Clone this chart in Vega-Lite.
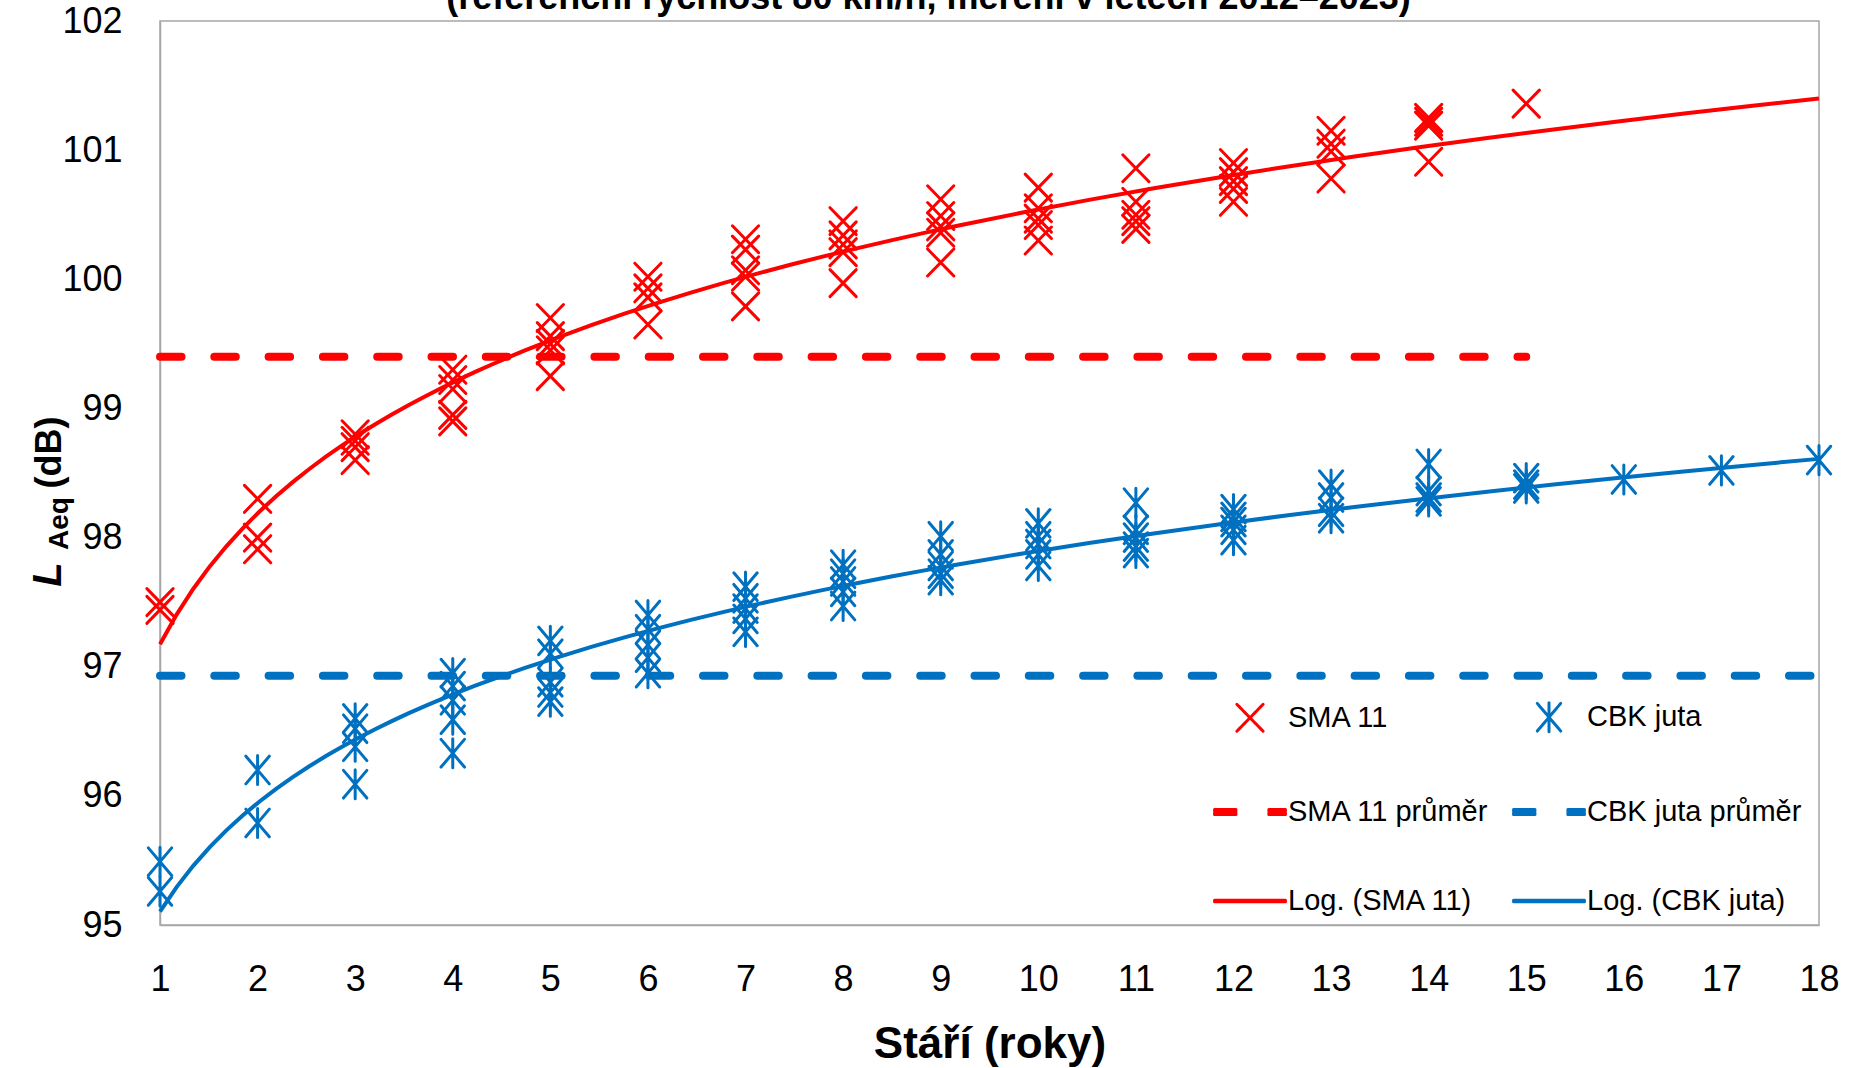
{
  "$schema": "https://vega.github.io/schema/vega-lite/v6.json",
  "width": 1659,
  "height": 904,
  "autosize": {"type": "none"},
  "padding": {"left": 160, "top": 21, "right": 37, "bottom": 143},
  "background": "white",
  "config": {
    "view": {"stroke": "#a6a6a6", "strokeWidth": 1.5},
    "font": "Liberation Sans",
    "legend": {
      "orient": "none",
      "legendX": 1053,
      "legendY": 659,
      "columns": 2,
      "direction": "horizontal",
      "columnPadding": 18,
      "rowPadding": 37,
      "padding": 0,
      "symbolSize": 5041,
      "symbolStrokeWidth": 3,
      "labelFont": "Liberation Sans",
      "labelFontSize": 29,
      "labelColor": "black",
      "labelOffset": 1,
      "labelLimit": 400
    }
  },
  "title": {
    "text": "(referenční rychlost 80 km/h, měření v letech 2012–2023)",
    "anchor": "middle",
    "frame": "group",
    "dx": -61,
    "offset": -42,
    "baseline": "alphabetic",
    "font": "Liberation Sans",
    "fontSize": 36,
    "fontWeight": "bold",
    "color": "black"
  },
  "datasets": {
    "points": [
      {"age": 1, "LAeq": 97.50, "series": "SMA 11", "trend": "Log. (SMA 11)"},
      {"age": 1, "LAeq": 97.44, "series": "SMA 11", "trend": "Log. (SMA 11)"},
      {"age": 2, "LAeq": 98.30, "series": "SMA 11", "trend": "Log. (SMA 11)"},
      {"age": 2, "LAeq": 98.00, "series": "SMA 11", "trend": "Log. (SMA 11)"},
      {"age": 2, "LAeq": 97.91, "series": "SMA 11", "trend": "Log. (SMA 11)"},
      {"age": 3, "LAeq": 98.80, "series": "SMA 11", "trend": "Log. (SMA 11)"},
      {"age": 3, "LAeq": 98.75, "series": "SMA 11", "trend": "Log. (SMA 11)"},
      {"age": 3, "LAeq": 98.70, "series": "SMA 11", "trend": "Log. (SMA 11)"},
      {"age": 3, "LAeq": 98.60, "series": "SMA 11", "trend": "Log. (SMA 11)"},
      {"age": 4, "LAeq": 99.30, "series": "SMA 11", "trend": "Log. (SMA 11)"},
      {"age": 4, "LAeq": 99.22, "series": "SMA 11", "trend": "Log. (SMA 11)"},
      {"age": 4, "LAeq": 99.15, "series": "SMA 11", "trend": "Log. (SMA 11)"},
      {"age": 4, "LAeq": 98.95, "series": "SMA 11", "trend": "Log. (SMA 11)"},
      {"age": 4, "LAeq": 98.90, "series": "SMA 11", "trend": "Log. (SMA 11)"},
      {"age": 5, "LAeq": 99.70, "series": "SMA 11", "trend": "Log. (SMA 11)"},
      {"age": 5, "LAeq": 99.56, "series": "SMA 11", "trend": "Log. (SMA 11)"},
      {"age": 5, "LAeq": 99.50, "series": "SMA 11", "trend": "Log. (SMA 11)"},
      {"age": 5, "LAeq": 99.45, "series": "SMA 11", "trend": "Log. (SMA 11)"},
      {"age": 5, "LAeq": 99.25, "series": "SMA 11", "trend": "Log. (SMA 11)"},
      {"age": 6, "LAeq": 100.02, "series": "SMA 11", "trend": "Log. (SMA 11)"},
      {"age": 6, "LAeq": 99.93, "series": "SMA 11", "trend": "Log. (SMA 11)"},
      {"age": 6, "LAeq": 99.86, "series": "SMA 11", "trend": "Log. (SMA 11)"},
      {"age": 6, "LAeq": 99.65, "series": "SMA 11", "trend": "Log. (SMA 11)"},
      {"age": 7, "LAeq": 100.31, "series": "SMA 11", "trend": "Log. (SMA 11)"},
      {"age": 7, "LAeq": 100.23, "series": "SMA 11", "trend": "Log. (SMA 11)"},
      {"age": 7, "LAeq": 100.07, "series": "SMA 11", "trend": "Log. (SMA 11)"},
      {"age": 7, "LAeq": 100.02, "series": "SMA 11", "trend": "Log. (SMA 11)"},
      {"age": 7, "LAeq": 99.79, "series": "SMA 11", "trend": "Log. (SMA 11)"},
      {"age": 8, "LAeq": 100.45, "series": "SMA 11", "trend": "Log. (SMA 11)"},
      {"age": 8, "LAeq": 100.34, "series": "SMA 11", "trend": "Log. (SMA 11)"},
      {"age": 8, "LAeq": 100.27, "series": "SMA 11", "trend": "Log. (SMA 11)"},
      {"age": 8, "LAeq": 100.21, "series": "SMA 11", "trend": "Log. (SMA 11)"},
      {"age": 8, "LAeq": 99.97, "series": "SMA 11", "trend": "Log. (SMA 11)"},
      {"age": 9, "LAeq": 100.62, "series": "SMA 11", "trend": "Log. (SMA 11)"},
      {"age": 9, "LAeq": 100.49, "series": "SMA 11", "trend": "Log. (SMA 11)"},
      {"age": 9, "LAeq": 100.41, "series": "SMA 11", "trend": "Log. (SMA 11)"},
      {"age": 9, "LAeq": 100.36, "series": "SMA 11", "trend": "Log. (SMA 11)"},
      {"age": 9, "LAeq": 100.13, "series": "SMA 11", "trend": "Log. (SMA 11)"},
      {"age": 10, "LAeq": 100.71, "series": "SMA 11", "trend": "Log. (SMA 11)"},
      {"age": 10, "LAeq": 100.55, "series": "SMA 11", "trend": "Log. (SMA 11)"},
      {"age": 10, "LAeq": 100.47, "series": "SMA 11", "trend": "Log. (SMA 11)"},
      {"age": 10, "LAeq": 100.42, "series": "SMA 11", "trend": "Log. (SMA 11)"},
      {"age": 10, "LAeq": 100.30, "series": "SMA 11", "trend": "Log. (SMA 11)"},
      {"age": 11, "LAeq": 100.86, "series": "SMA 11", "trend": "Log. (SMA 11)"},
      {"age": 11, "LAeq": 100.60, "series": "SMA 11", "trend": "Log. (SMA 11)"},
      {"age": 11, "LAeq": 100.50, "series": "SMA 11", "trend": "Log. (SMA 11)"},
      {"age": 11, "LAeq": 100.45, "series": "SMA 11", "trend": "Log. (SMA 11)"},
      {"age": 11, "LAeq": 100.39, "series": "SMA 11", "trend": "Log. (SMA 11)"},
      {"age": 12, "LAeq": 100.90, "series": "SMA 11", "trend": "Log. (SMA 11)"},
      {"age": 12, "LAeq": 100.83, "series": "SMA 11", "trend": "Log. (SMA 11)"},
      {"age": 12, "LAeq": 100.76, "series": "SMA 11", "trend": "Log. (SMA 11)"},
      {"age": 12, "LAeq": 100.70, "series": "SMA 11", "trend": "Log. (SMA 11)"},
      {"age": 12, "LAeq": 100.60, "series": "SMA 11", "trend": "Log. (SMA 11)"},
      {"age": 13, "LAeq": 101.15, "series": "SMA 11", "trend": "Log. (SMA 11)"},
      {"age": 13, "LAeq": 101.05, "series": "SMA 11", "trend": "Log. (SMA 11)"},
      {"age": 13, "LAeq": 100.99, "series": "SMA 11", "trend": "Log. (SMA 11)"},
      {"age": 13, "LAeq": 100.78, "series": "SMA 11", "trend": "Log. (SMA 11)"},
      {"age": 14, "LAeq": 101.25, "series": "SMA 11", "trend": "Log. (SMA 11)"},
      {"age": 14, "LAeq": 101.22, "series": "SMA 11", "trend": "Log. (SMA 11)"},
      {"age": 14, "LAeq": 101.19, "series": "SMA 11", "trend": "Log. (SMA 11)"},
      {"age": 14, "LAeq": 100.91, "series": "SMA 11", "trend": "Log. (SMA 11)"},
      {"age": 15, "LAeq": 101.36, "series": "SMA 11", "trend": "Log. (SMA 11)"},
      {"age": 1, "LAeq": 95.49, "series": "CBK juta", "trend": "Log. (CBK juta)"},
      {"age": 1, "LAeq": 95.26, "series": "CBK juta", "trend": "Log. (CBK juta)"},
      {"age": 2, "LAeq": 96.20, "series": "CBK juta", "trend": "Log. (CBK juta)"},
      {"age": 2, "LAeq": 95.79, "series": "CBK juta", "trend": "Log. (CBK juta)"},
      {"age": 3, "LAeq": 96.60, "series": "CBK juta", "trend": "Log. (CBK juta)"},
      {"age": 3, "LAeq": 96.52, "series": "CBK juta", "trend": "Log. (CBK juta)"},
      {"age": 3, "LAeq": 96.38, "series": "CBK juta", "trend": "Log. (CBK juta)"},
      {"age": 3, "LAeq": 96.09, "series": "CBK juta", "trend": "Log. (CBK juta)"},
      {"age": 4, "LAeq": 96.95, "series": "CBK juta", "trend": "Log. (CBK juta)"},
      {"age": 4, "LAeq": 96.85, "series": "CBK juta", "trend": "Log. (CBK juta)"},
      {"age": 4, "LAeq": 96.74, "series": "CBK juta", "trend": "Log. (CBK juta)"},
      {"age": 4, "LAeq": 96.59, "series": "CBK juta", "trend": "Log. (CBK juta)"},
      {"age": 4, "LAeq": 96.33, "series": "CBK juta", "trend": "Log. (CBK juta)"},
      {"age": 5, "LAeq": 97.20, "series": "CBK juta", "trend": "Log. (CBK juta)"},
      {"age": 5, "LAeq": 97.10, "series": "CBK juta", "trend": "Log. (CBK juta)"},
      {"age": 5, "LAeq": 96.88, "series": "CBK juta", "trend": "Log. (CBK juta)"},
      {"age": 5, "LAeq": 96.80, "series": "CBK juta", "trend": "Log. (CBK juta)"},
      {"age": 5, "LAeq": 96.73, "series": "CBK juta", "trend": "Log. (CBK juta)"},
      {"age": 6, "LAeq": 97.40, "series": "CBK juta", "trend": "Log. (CBK juta)"},
      {"age": 6, "LAeq": 97.29, "series": "CBK juta", "trend": "Log. (CBK juta)"},
      {"age": 6, "LAeq": 97.17, "series": "CBK juta", "trend": "Log. (CBK juta)"},
      {"age": 6, "LAeq": 97.07, "series": "CBK juta", "trend": "Log. (CBK juta)"},
      {"age": 6, "LAeq": 96.95, "series": "CBK juta", "trend": "Log. (CBK juta)"},
      {"age": 7, "LAeq": 97.62, "series": "CBK juta", "trend": "Log. (CBK juta)"},
      {"age": 7, "LAeq": 97.53, "series": "CBK juta", "trend": "Log. (CBK juta)"},
      {"age": 7, "LAeq": 97.45, "series": "CBK juta", "trend": "Log. (CBK juta)"},
      {"age": 7, "LAeq": 97.37, "series": "CBK juta", "trend": "Log. (CBK juta)"},
      {"age": 7, "LAeq": 97.27, "series": "CBK juta", "trend": "Log. (CBK juta)"},
      {"age": 8, "LAeq": 97.79, "series": "CBK juta", "trend": "Log. (CBK juta)"},
      {"age": 8, "LAeq": 97.72, "series": "CBK juta", "trend": "Log. (CBK juta)"},
      {"age": 8, "LAeq": 97.66, "series": "CBK juta", "trend": "Log. (CBK juta)"},
      {"age": 8, "LAeq": 97.58, "series": "CBK juta", "trend": "Log. (CBK juta)"},
      {"age": 8, "LAeq": 97.47, "series": "CBK juta", "trend": "Log. (CBK juta)"},
      {"age": 9, "LAeq": 98.01, "series": "CBK juta", "trend": "Log. (CBK juta)"},
      {"age": 9, "LAeq": 97.87, "series": "CBK juta", "trend": "Log. (CBK juta)"},
      {"age": 9, "LAeq": 97.78, "series": "CBK juta", "trend": "Log. (CBK juta)"},
      {"age": 9, "LAeq": 97.72, "series": "CBK juta", "trend": "Log. (CBK juta)"},
      {"age": 9, "LAeq": 97.67, "series": "CBK juta", "trend": "Log. (CBK juta)"},
      {"age": 10, "LAeq": 98.11, "series": "CBK juta", "trend": "Log. (CBK juta)"},
      {"age": 10, "LAeq": 98.01, "series": "CBK juta", "trend": "Log. (CBK juta)"},
      {"age": 10, "LAeq": 97.95, "series": "CBK juta", "trend": "Log. (CBK juta)"},
      {"age": 10, "LAeq": 97.87, "series": "CBK juta", "trend": "Log. (CBK juta)"},
      {"age": 10, "LAeq": 97.78, "series": "CBK juta", "trend": "Log. (CBK juta)"},
      {"age": 11, "LAeq": 98.27, "series": "CBK juta", "trend": "Log. (CBK juta)"},
      {"age": 11, "LAeq": 98.06, "series": "CBK juta", "trend": "Log. (CBK juta)"},
      {"age": 11, "LAeq": 98.00, "series": "CBK juta", "trend": "Log. (CBK juta)"},
      {"age": 11, "LAeq": 97.93, "series": "CBK juta", "trend": "Log. (CBK juta)"},
      {"age": 11, "LAeq": 97.88, "series": "CBK juta", "trend": "Log. (CBK juta)"},
      {"age": 12, "LAeq": 98.22, "series": "CBK juta", "trend": "Log. (CBK juta)"},
      {"age": 12, "LAeq": 98.16, "series": "CBK juta", "trend": "Log. (CBK juta)"},
      {"age": 12, "LAeq": 98.12, "series": "CBK juta", "trend": "Log. (CBK juta)"},
      {"age": 12, "LAeq": 98.06, "series": "CBK juta", "trend": "Log. (CBK juta)"},
      {"age": 12, "LAeq": 97.98, "series": "CBK juta", "trend": "Log. (CBK juta)"},
      {"age": 13, "LAeq": 98.41, "series": "CBK juta", "trend": "Log. (CBK juta)"},
      {"age": 13, "LAeq": 98.31, "series": "CBK juta", "trend": "Log. (CBK juta)"},
      {"age": 13, "LAeq": 98.20, "series": "CBK juta", "trend": "Log. (CBK juta)"},
      {"age": 13, "LAeq": 98.15, "series": "CBK juta", "trend": "Log. (CBK juta)"},
      {"age": 14, "LAeq": 98.57, "series": "CBK juta", "trend": "Log. (CBK juta)"},
      {"age": 14, "LAeq": 98.36, "series": "CBK juta", "trend": "Log. (CBK juta)"},
      {"age": 14, "LAeq": 98.31, "series": "CBK juta", "trend": "Log. (CBK juta)"},
      {"age": 14, "LAeq": 98.28, "series": "CBK juta", "trend": "Log. (CBK juta)"},
      {"age": 15, "LAeq": 98.46, "series": "CBK juta", "trend": "Log. (CBK juta)"},
      {"age": 15, "LAeq": 98.41, "series": "CBK juta", "trend": "Log. (CBK juta)"},
      {"age": 15, "LAeq": 98.38, "series": "CBK juta", "trend": "Log. (CBK juta)"},
      {"age": 16, "LAeq": 98.45, "series": "CBK juta", "trend": "Log. (CBK juta)"},
      {"age": 17, "LAeq": 98.52, "series": "CBK juta", "trend": "Log. (CBK juta)"},
      {"age": 18, "LAeq": 98.60, "series": "CBK juta", "trend": "Log. (CBK juta)"}
    ],
    "means": [
      {"series": "SMA 11 průměr", "from": 1, "to": 15, "LAeq": 99.40},
      {"series": "CBK juta průměr", "from": 1, "to": 18, "LAeq": 96.93}
    ]
  },
  "resolve": {"axis": {"y": "independent"}},
  "layer": [
    {
      "data": {"name": "points"},
      "mark": {"type": "point", "filled": false, "opacity": 1, "strokeWidth": 3, "size": 5041, "strokeCap": "round"},
      "encoding": {
        "x": {
          "field": "age", "type": "quantitative",
          "scale": {"domain": [1, 18], "nice": false, "zero": false},
          "axis": {
            "values": [1,2,3,4,5,6,7,8,9,10,11,12,13,14,15,16,17,18],
            "format": "d",
            "title": "Stáří (roky)",
            "grid": false, "ticks": false,
            "domainColor": "#a6a6a6", "domainWidth": 1.5,
            "labelFont": "Liberation Sans", "labelFontSize": 36, "labelColor": "black",
            "labelPadding": 37, "labelFlush": false, "labelOverlap": false,
            "titleFont": "Liberation Sans", "titleFontSize": 44, "titleFontWeight": "bold", "titleColor": "black",
            "titleY": 132, "titleBaseline": "alphabetic"
          }
        },
        "y": {
          "field": "LAeq", "type": "quantitative",
          "scale": {"domain": [95, 102], "nice": false, "zero": false},
          "axis": {
            "orient": "left",
            "values": [95,96,97,98,99,100,101,102],
            "format": "d",
            "title": "(dB)",
            "grid": false, "ticks": false,
            "domainColor": "#a6a6a6", "domainWidth": 1.5,
            "labelFont": "Liberation Sans", "labelFontSize": 36, "labelColor": "black",
            "labelPadding": 38, "labelFlush": false, "labelOverlap": false,
            "titleFont": "Liberation Sans", "titleFontSize": 36, "titleFontWeight": "bold", "titleColor": "black",
            "titleX": -100, "titleY": 431, "titleAngle": -90, "titleBaseline": "alphabetic", "titleAlign": "center"
          }
        },
        "color": {
          "field": "series", "type": "nominal",
          "scale": {
            "domain": ["SMA 11", "CBK juta", "SMA 11 průměr", "CBK juta průměr", "Log. (SMA 11)", "Log. (CBK juta)"],
            "range": ["#ff0000", "#0070c0", "#ff0000", "#0070c0", "#ff0000", "#0070c0"]
          },
          "legend": {
            "title": null,
            "encode": {"symbols": {"update": {"opacity": {"value": 1}, "fill": {"value": "transparent"}, "strokeCap": {"value": "round"}}}}
          }
        },
        "shape": {
          "field": "series", "type": "nominal",
          "scale": {
            "domain": ["SMA 11", "CBK juta", "SMA 11 průměr", "CBK juta průměr", "Log. (SMA 11)", "Log. (CBK juta)"],
            "range": [
              "M-0.37,-0.38L0.37,0.38M-0.37,0.38L0.37,-0.38",
              "M-0.33,-0.39L0.33,0.39M-0.33,0.39L0.33,-0.39M0,-0.41L0,0.41",
              "M-1,-0.07L1,-0.07M-1,-0.035L1,-0.035M-1,0L1,0M-1,0.035L1,0.035M-1,0.07L1,0.07",
              "M-1,-0.07L1,-0.07M-1,-0.035L1,-0.035M-1,0L1,0M-1,0.035L1,0.035M-1,0.07L1,0.07",
              "M-1,-0.02L1,-0.02M-1,0.02L1,0.02",
              "M-1,-0.02L1,-0.02M-1,0.02L1,0.02"
            ]
          },
          "legend": {
            "title": null,
            "encode": {"symbols": {"update": {"opacity": {"value": 1}, "fill": {"value": "transparent"}, "strokeCap": {"value": "round"}}}}
          }
        }
      }
    },
    {
      "data": {"name": "means"},
      "mark": {"type": "rule", "strokeWidth": 8, "strokeCap": "round"},
      "encoding": {
        "x": {"field": "from", "type": "quantitative"},
        "x2": {"field": "to"},
        "y": {
          "field": "LAeq", "type": "quantitative",
          "axis": {
            "orient": "left", "title": "L", "labels": false, "domain": false, "ticks": false, "grid": false,
            "titleFont": "Liberation Sans", "titleFontSize": 40, "titleFontWeight": "bold", "titleFontStyle": "italic", "titleColor": "black",
            "titleX": -100, "titleY": 553, "titleAngle": -90, "titleBaseline": "alphabetic", "titleAlign": "center"
          }
        },
        "color": {
          "field": "series", "type": "nominal",
          "legend": {
            "title": null,
            "encode": {"symbols": {"update": {"opacity": {"value": 1}, "fill": {"value": "transparent"}, "strokeCap": {"value": "round"}}}}
          }
        },
        "strokeDash": {
          "field": "series", "type": "nominal",
          "scale": {
            "domain": ["SMA 11", "CBK juta", "SMA 11 průměr", "CBK juta průměr", "Log. (SMA 11)", "Log. (CBK juta)"],
            "range": [[1, 0], [1, 0], [21.5, 32.8], [21.5, 32.8], [1, 0], [1, 0]]
          },
          "legend": {
            "title": null,
            "encode": {"symbols": {"update": {"opacity": {"value": 1}, "fill": {"value": "transparent"}, "strokeCap": {"value": "round"}}}}
          }
        }
      }
    },
    {
      "data": {"name": "points"},
      "transform": [
        {"regression": "LAeq", "on": "age", "groupby": ["trend"], "method": "log", "extent": [1, 18]}
      ],
      "mark": {"type": "line", "strokeWidth": 4},
      "encoding": {
        "x": {"field": "age", "type": "quantitative"},
        "y": {
          "field": "LAeq", "type": "quantitative",
          "axis": {
            "orient": "left", "title": "Aeq", "labels": false, "domain": false, "ticks": false, "grid": false,
            "titleFont": "Liberation Sans", "titleFontSize": 28, "titleFontWeight": "bold", "titleColor": "black",
            "titleX": -93, "titleY": 502, "titleAngle": -90, "titleBaseline": "alphabetic", "titleAlign": "center"
          }
        },
        "color": {
          "field": "trend", "type": "nominal",
          "legend": {
            "title": null,
            "encode": {"symbols": {"update": {"opacity": {"value": 1}, "fill": {"value": "transparent"}, "strokeCap": {"value": "round"}}}}
          }
        }
      }
    }
  ]
}
